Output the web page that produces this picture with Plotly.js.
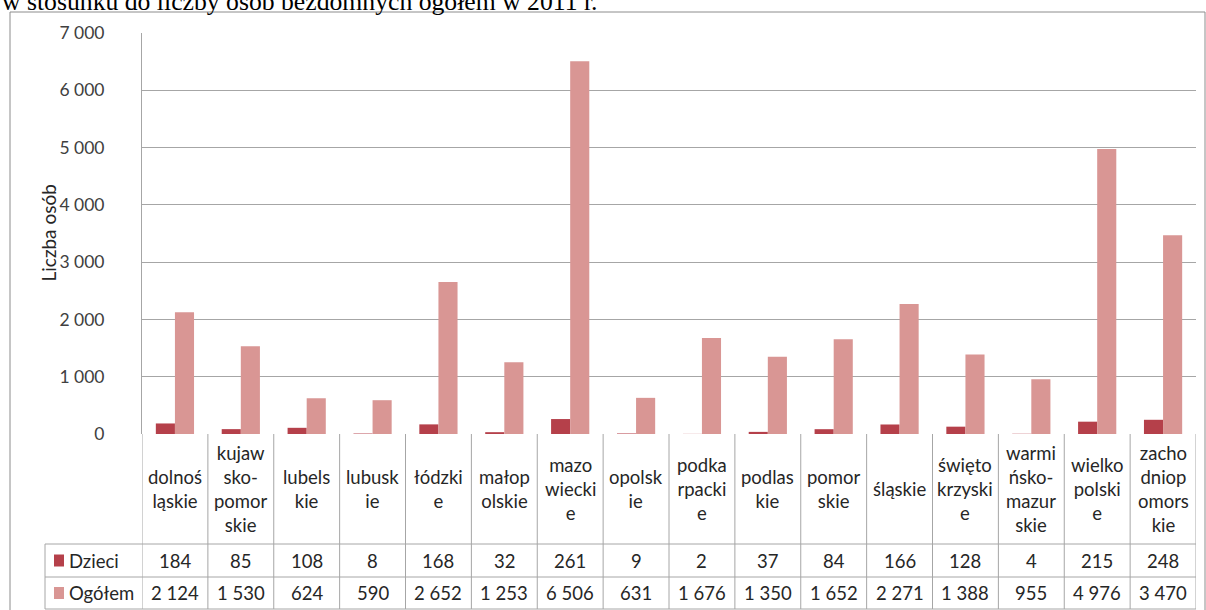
<!DOCTYPE html>
<html>
<head>
<meta charset="utf-8">
<script src="https://cdn.plot.ly/plotly-3.0.1.min.js"></script>
<style>
  html, body { margin: 0; padding: 0; background: #fff; }
  #chart { width: 1206px; height: 610px; }
</style>
</head>
<body>
<div id="chart"></div>
<script>
// ---- data ----
const categories = ["dolnośląskie", "kujawsko-pomorskie", "lubelskie", "lubuskie", "łódzkie", "małopolskie",
  "mazowieckie", "opolskie", "podkarpackie", "podlaskie", "pomorskie", "śląskie", "świętokrzyskie",
  "warmińsko-mazurskie", "wielkopolskie", "zachodniopomorskie"];
const categoryLabels = ["dolnoś<br>ląskie", "kujaw<br>sko-<br>pomor<br>skie", "lubels<br>kie", "lubusk<br>ie",
  "łódzki<br>e", "małop<br>olskie", "mazo<br>wiecki<br>e", "opolsk<br>ie", "podka<br>rpacki<br>e",
  "podlas<br>kie", "pomor<br>skie", "śląskie", "święto<br>krzyski<br>e", "warmi<br>ńsko-<br>mazur<br>skie",
  "wielko<br>polski<br>e", "zacho<br>dniop<br>omors<br>kie"];
const seriesNames = ["Dzieci", "Ogółem"];
const dzieci = [184, 85, 108, 8, 168, 32, 261, 9, 2, 37, 84, 166, 128, 4, 215, 248];
const ogolem = [2124, 1530, 624, 590, 2652, 1253, 6506, 631, 1676, 1350, 1652, 2271, 1388, 955, 4976, 3470];
const yTicks = [0, 1000, 2000, 3000, 4000, 5000, 6000, 7000];
const yTitle = "Liczba osób";
const chartTitle = "w stosunku do liczby osób bezdomnych ogółem w 2011 r.";

// ---- style ----
const colors = ["#B5404A", "#D99694"];
const gridColor = "#a6a6a6";
const textColor = "#262626";
const fontFam = "Lato, 'Open Sans', sans-serif";

const fmt = v => String(v).replace(/\B(?=(\d{3})+(?!\d))/g, "\u00A0");

// pixel helpers (plot area: x 142..1196, y 33..434)
const L = 142, R = 1196, T = 33, B = 434;
const px = p => (p - L) / (R - L);
const py = p => (B - p) / (B - T);

const idx = categories.map((_, i) => i);
const traces = [dzieci, ogolem].map((vals, k) => ({
  type: "bar",
  name: seriesNames[k],
  x: idx,
  y: vals,
  marker: { color: colors[k], line: { width: 0 } },
  hovertext: categories,
  hovertemplate: "%{hovertext}<br>" + seriesNames[k] + ": %{y}<extra></extra>"
}));

const shapes = [];
const annotations = [];
const lineStyle = { color: gridColor, width: 1 };

// outer frame
shapes.push({ type: "rect", xref: "paper", yref: "paper", x0: px(10), x1: px(1205), y0: py(615), y1: py(12),
  line: { color: "#8c8c8c", width: 1 }, fillcolor: "rgba(0,0,0,0)", layer: "below" });

// table rows
const rowTop = 544, rowMid = 577, rowBot = 609, legendLeft = 45;
[rowTop, rowMid, rowBot].forEach(yp => shapes.push({ type: "line", xref: "paper", yref: "paper",
  x0: px(legendLeft), x1: 1, y0: py(yp), y1: py(yp), line: lineStyle }));
// vertical boundaries
for (let i = 0; i <= categories.length; i++) {
  shapes.push({ type: "line", xref: "x", yref: "paper", x0: i - 0.5, x1: i - 0.5, y0: 0, y1: py(rowBot), line: lineStyle });
}
shapes.push({ type: "line", xref: "paper", yref: "paper", x0: px(legendLeft), x1: px(legendLeft),
  y0: py(rowTop), y1: py(rowBot), line: lineStyle });

// header labels
categoryLabels.forEach((lab, i) => annotations.push({
  xref: "x", yref: "paper", x: i, y: py((B + rowTop) / 2), text: lab, showarrow: false,
  xanchor: "center", yanchor: "middle", align: "center",
  font: { family: fontFam, size: 18.5, color: textColor }
}));

// value rows + legend keys
[dzieci, ogolem].forEach((vals, k) => {
  const yTopPx = k === 0 ? rowTop : rowMid;
  const yBotPx = k === 0 ? rowMid : rowBot;
  const cy = (yTopPx + yBotPx) / 2;
  vals.forEach((v, i) => annotations.push({
    xref: "x", yref: "paper", x: i, y: py(cy), text: fmt(v), showarrow: false,
    xanchor: "center", yanchor: "middle",
    font: { family: fontFam, size: 18.5, color: textColor }
  }));
  shapes.push({ type: "rect", xref: "paper", yref: "paper", x0: px(54), x1: px(64),
    y0: py(cy + 6), y1: py(cy - 6), fillcolor: colors[k], line: { width: 0 } });
  annotations.push({
    xref: "paper", yref: "paper", x: px(67), y: py(cy), text: seriesNames[k], showarrow: false,
    xanchor: "left", yanchor: "middle",
    font: { family: fontFam, size: 18.5, color: textColor }
  });
});

// y-axis title
annotations.push({
  xref: "paper", yref: "paper", x: px(48), y: py((T + B) / 2), text: yTitle, textangle: -90,
  showarrow: false, xanchor: "center", yanchor: "middle",
  font: { family: fontFam, size: 19, color: textColor }
});

// cropped document title (top of the page, as in the source)
annotations.push({
  xref: "paper", yref: "paper", x: px(0), y: py(18), text: chartTitle, showarrow: false,
  xanchor: "left", yanchor: "bottom",
  font: { family: "'Liberation Serif', serif", size: 25.7, color: "#000" }
});

const layout = {
  width: 1206, height: 610,
  margin: { l: L, r: 1206 - R, t: T, b: 610 - B, pad: 0 },
  paper_bgcolor: "#fff", plot_bgcolor: "#fff",
  showlegend: false,
  barmode: "group", bargap: 0.42, bargroupgap: 0,
  xaxis: { range: [-0.5, categories.length - 0.5], showticklabels: false, showgrid: false,
    zeroline: false, showline: false, ticks: "", fixedrange: true },
  yaxis: { range: [0, 7000], tickmode: "array", tickvals: yTicks, ticktext: yTicks.map(fmt),
    showgrid: true, gridcolor: gridColor, gridwidth: 1, zeroline: false,
    showline: true, linecolor: gridColor, linewidth: 1, ticks: "", ticklabelstandoff: 33,
    tickfont: { family: fontFam, size: 17.5, color: "#404040" }, fixedrange: true },
  shapes: shapes,
  annotations: annotations,
  font: { family: fontFam }
};

Plotly.newPlot("chart", traces, layout, { displayModeBar: false, staticPlot: true });
</script>
</body>
</html>
